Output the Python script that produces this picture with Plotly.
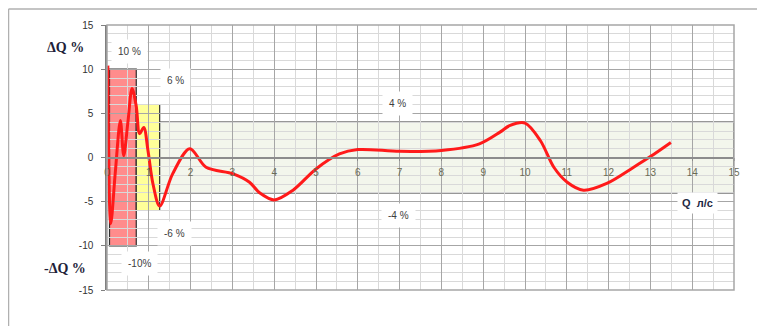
import plotly.graph_objects as go

# ---- data ----
q_values = [0.02, 0.09, 0.2, 0.32, 0.4, 0.5, 0.6, 0.7, 0.78, 0.88, 0.98, 1.1, 1.26,
            1.57, 1.98, 2.37, 3.02, 3.41, 3.65, 4.0, 4.45, 5.0, 5.56, 6.0, 7.0,
            8.0, 8.91, 9.41, 9.63, 10.0, 10.37, 10.69, 11.01, 11.4, 11.97, 12.6,
            13.0, 13.49]
dq_values = [10.4, -7.5, -1.6, 4.2, 0.2, 4.0, 7.8, 5.8, 2.7, 3.4, 0.8, -3.0, -5.5,
             -1.85, 1.0, -1.1, -1.85, -2.8, -4.0, -4.8, -3.7, -1.3, 0.4, 0.9, 0.7,
             0.8, 1.55, 2.9, 3.6, 3.9, 1.9, -1.1, -2.8, -3.7, -2.9, -1.1,
             0.1, 1.7]

# tolerance zones: (x0, x1, limit)
zone_x0 = [0.06, 0.7, 1.26]
zone_x1 = [0.7, 1.26, 15]
zone_limit = [10, 6, 4]
zone_colors = ["#FF8C8C", "#FFFF99", "#F3F6EC"]

x_ticks = list(range(0, 16))
y_ticks = [-15, -10, -5, 0, 5, 10, 15]

zone_labels = ["10 %", "6 %", "4 %", "-4 %", "-6 %", "-10%"]
zone_label_x = [0.54, 1.64, 6.95, 6.97, 1.61, 0.78]
zone_label_y = [12.0, 8.7, 6.1, -6.6, -8.6, -12.0]

OFF = 8  # page body margin
W, H = 765 - OFF, 326 - OFF
L, T = 107 - OFF, 25 - OFF
PW, PH = 627, 265
R = W - L - PW
B = H - T - PH

def px_to_paper_x(px):
    return (px - OFF - L) / PW

def py_to_paper_y(py):
    return (T + PH - (py - OFF)) / PH

fig = go.Figure()

shapes = []
for x0, x1, lim, col in zip(zone_x0, zone_x1, zone_limit, zone_colors):
    shapes.append(dict(type="rect", xref="x", yref="y", x0=x0, x1=x1, y0=-lim, y1=lim,
                       fillcolor=col, line=dict(color="#303030", width=1.2), layer="below"))

# plot area border
shapes.append(dict(type="rect", xref="paper", yref="paper", x0=0, x1=1, y0=0, y1=1,
                   line=dict(color="#A6A6A6", width=1.5), layer="above"))
# outer frame (top and left lines)
shapes.append(dict(type="line", xref="paper", yref="paper",
                   x0=px_to_paper_x(8.5), x1=px_to_paper_x(765),
                   y0=py_to_paper_y(9), y1=py_to_paper_y(9),
                   line=dict(color="#B0B0B0", width=1.5)))
shapes.append(dict(type="line", xref="paper", yref="paper",
                   x0=px_to_paper_x(8.5), x1=px_to_paper_x(8.5),
                   y0=py_to_paper_y(9), y1=py_to_paper_y(330),
                   line=dict(color="#B0B0B0", width=1.5)))

fig.add_trace(go.Scatter(
    x=q_values, y=dq_values, mode="lines",
    line=dict(color="#FF1A1A", width=3, shape="spline", smoothing=0.9),
    hoverinfo="skip", showlegend=False, cliponaxis=False))

annotations = []
for txt, ax, ay in zip(zone_labels, zone_label_x, zone_label_y):
    annotations.append(dict(x=ax, y=ay, xref="x", yref="y", text=txt, showarrow=False,
                            xanchor="center", yanchor="middle",
                            bgcolor="white", borderpad=6,
                            font=dict(family="Liberation Sans", size=10, color="#404040")))
annotations.append(dict(x=14.12, y=-5.2, xref="x", yref="y", text="<b>Q  л/с</b>",
                        showarrow=False, xanchor="center", yanchor="middle",
                        bgcolor="white", borderpad=4,
                        font=dict(family="Liberation Sans", size=11, color="#1F2A44")))
annotations.append(dict(x=px_to_paper_x(65), y=py_to_paper_y(47), xref="paper", yref="paper",
                        text="<b>ΔQ %</b>", showarrow=False, xanchor="center", yanchor="middle",
                        font=dict(family="Liberation Serif", size=14, color="#1F1F3A")))
annotations.append(dict(x=px_to_paper_x(65), y=py_to_paper_y(268), xref="paper", yref="paper",
                        text="<b>-ΔQ %</b>", showarrow=False, xanchor="center", yanchor="middle",
                        font=dict(family="Liberation Serif", size=14, color="#1F1F3A")))

fig.update_layout(
    width=W, height=H,
    margin=dict(l=L, r=R, t=T, b=B, pad=0),
    paper_bgcolor="white", plot_bgcolor="white",
    shapes=shapes, annotations=annotations,
    showlegend=False,
    xaxis=dict(range=[0, 15], tickvals=x_ticks, ticktext=[str(v) for v in x_ticks],
               anchor="free", position=0.5,
               showline=True, linecolor="#8C8C8C", linewidth=1.5,
               ticks="outside", ticklen=3, tickcolor="#8C8C8C",
               showgrid=True, gridcolor="#A6A6A6", gridwidth=1,
               minor=dict(dtick=0.5, tick0=0, showgrid=True, gridcolor="#D9D9D9", gridwidth=1),
               zeroline=False, ticklabelstandoff=3,
               tickfont=dict(family="Liberation Sans", size=10, color="#6B6B55")),
    yaxis=dict(range=[-15, 15], tickvals=y_ticks, ticktext=[str(v) for v in y_ticks],
               showline=True, linecolor="#808080", linewidth=1.5,
               ticks="outside", ticklen=4, tickcolor="#808080",
               showgrid=True, gridcolor="#A6A6A6", gridwidth=1,
               minor=dict(dtick=1, tick0=0, showgrid=True, gridcolor="#D9D9D9", gridwidth=1),
               zeroline=True, zerolinecolor="#8C8C8C", zerolinewidth=1.5,
               ticklabelstandoff=6,
               tickfont=dict(family="Liberation Sans", size=10, color="#333333")),
)

fig.write_html("out.html")
